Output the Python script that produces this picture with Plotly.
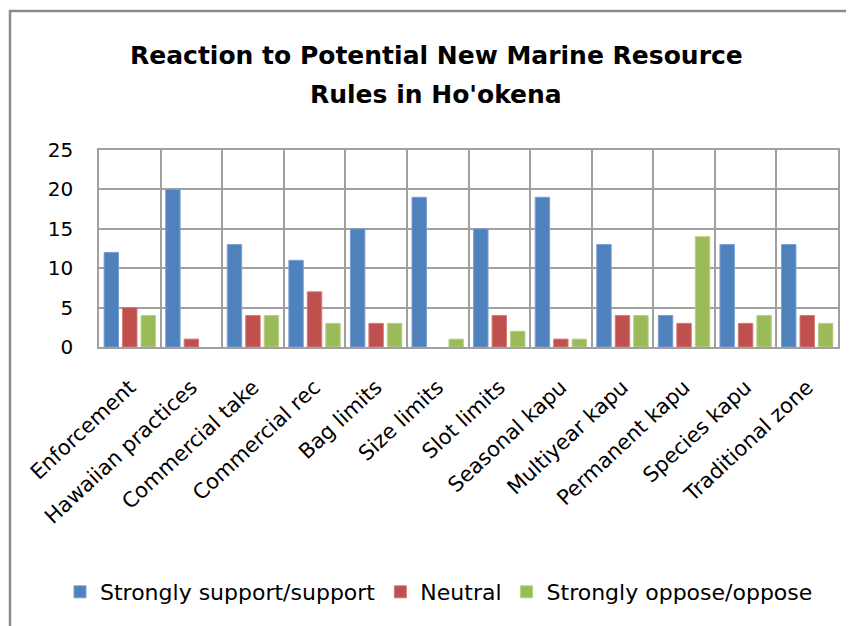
import plotly.graph_objects as go

categories = ["Enforcement", "Hawaiian practices", "Commercial take", "Commercial rec",
              "Bag limits", "Size limits", "Slot limits", "Seasonal kapu",
              "Multiyear kapu", "Permanent kapu", "Species kapu", "Traditional zone"]
support = [12, 20, 13, 11, 15, 19, 15, 19, 13, 4, 13, 13]
neutral = [5, 1, 4, 7, 3, 0, 4, 1, 4, 3, 3, 4]
oppose = [4, 0, 4, 3, 3, 1, 2, 1, 4, 14, 4, 3]
series_names = ["Strongly support/support", "Neutral", "Strongly oppose/oppose"]
y_ticks = [0, 5, 10, 15, 20, 25]
title_line1 = "Reaction to Potential New Marine Resource"
title_line2 = "Rules in Ho'okena"

colors = ["#4F81BD", "#C0504D", "#9BBB59"]
edge = ["#7A9FD0", "#D27A78", "#B7D08A"]

# page body has an 8px margin, so the figure sits 8px right/down in the window
OFF = 8
W, H = 854 - OFF, 626 - OFF
ML, MR, MT, MB = 99 - OFF, 16, 150 - OFF, 279
PW = W - ML - MR
PH = H - MT - MB

def px_x(x):
    return (x - OFF - ML) / PW

def px_y(y):
    return (H - MB - (y - OFF)) / PH

FONT = "DejaVu Sans"

fig = go.Figure()
for name, vals, c, e in zip(series_names, [support, neutral, oppose], colors, edge):
    fig.add_trace(go.Bar(x=categories, y=vals, name=name,
                         marker=dict(color=c,
                                     line=dict(color=e, width=[1 if v else 0 for v in vals]))))

fig.update_layout(
    width=W, height=H,
    margin=dict(l=ML, r=MR, t=MT, b=MB, autoexpand=False),
    paper_bgcolor="white", plot_bgcolor="white",
    barmode="group", bargap=0.1, bargroupgap=0.22,
    font=dict(family=FONT, color="black", size=21),
    showlegend=True,
    legend=dict(orientation="h", x=px_x(60), xanchor="left", y=px_y(592), yanchor="middle",
                font=dict(family=FONT, size=22, color="black"),
                itemwidth=30, traceorder="normal", bgcolor="rgba(0,0,0,0)"),
    xaxis=dict(type="category", tickson="boundaries", showgrid=True, gridcolor="#A0A0A0",
               gridwidth=1.5, showline=True, linecolor="#A0A0A0", linewidth=1.5, mirror=True,
               tickangle=-43, ticks="", ticklabelstandoff=18,
               tickfont=dict(family=FONT, size=21, color="black")),
    yaxis=dict(range=[0, 25], tickvals=y_ticks, showgrid=True, gridcolor="#A0A0A0",
               gridwidth=1.5, showline=True, linecolor="#A0A0A0", linewidth=1.5, mirror=True,
               ticks="", ticklabelstandoff=20, zeroline=False,
               tickfont=dict(family=FONT, size=20, color="black")),
    annotations=[
        dict(text="<b>%s</b>" % title_line1, xref="paper", yref="paper",
             x=px_x(436), y=px_y(56), xanchor="center", yanchor="middle", showarrow=False,
             font=dict(family=FONT, size=25, color="black")),
        dict(text="<b>%s</b>" % title_line2, xref="paper", yref="paper",
             x=px_x(436), y=px_y(94), xanchor="center", yanchor="middle", showarrow=False,
             font=dict(family=FONT, size=25, color="black")),
    ],
    shapes=[
        dict(type="rect", xref="paper", yref="paper",
             x0=px_x(10), x1=px_x(880), y0=px_y(660), y1=px_y(11),
             line=dict(color="#8C8C8C", width=2.5), fillcolor="rgba(0,0,0,0)", layer="below"),
    ],
)

fig.write_html("out.html")
